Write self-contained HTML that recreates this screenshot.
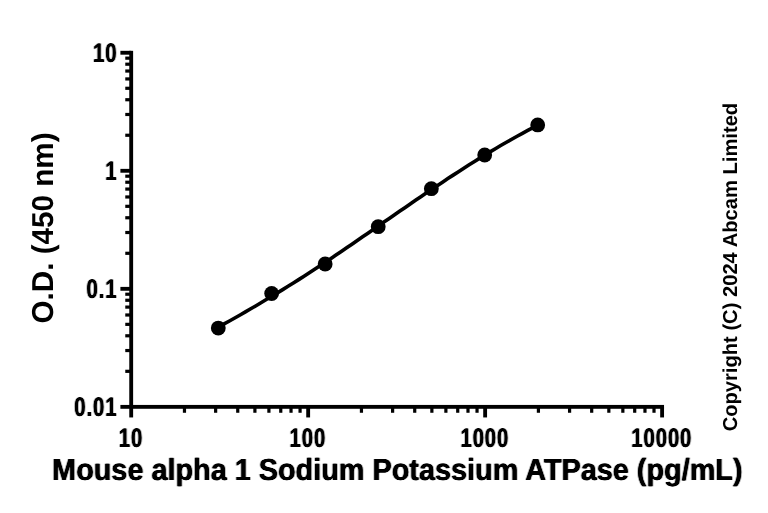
<!DOCTYPE html>
<html><head><meta charset="utf-8"><title>Standard curve</title>
<style>html,body{margin:0;padding:0;background:#fff}svg{display:block}text{text-rendering:geometricPrecision;font-family:"Liberation Sans",Arial,sans-serif;font-weight:bold;fill:#000}</style></head><body>
<svg width="768" height="513" viewBox="0 0 768 513">
<defs><filter id="hb" x="-5%" y="-25%" width="110%" height="150%" color-interpolation-filters="sRGB"><feConvolveMatrix order="3 1" kernelMatrix="0.3 1 0.3" divisor="1" edgeMode="none" preserveAlpha="false"/></filter></defs>
<rect width="768" height="513" fill="#fff"/>
<g fill="#000">
<rect x="129.27" y="50.83" width="3.85" height="366.62"/>
<rect x="120.40" y="404.93" width="543.63" height="3.85"/>
<rect x="120.40" y="286.90" width="10.80" height="3.85"/>
<rect x="120.40" y="168.87" width="10.80" height="3.85"/>
<rect x="120.40" y="50.83" width="10.80" height="3.85"/>
<rect x="125.27" y="369.72" width="5.00" height="3.20"/>
<rect x="125.27" y="348.94" width="5.00" height="3.20"/>
<rect x="125.27" y="334.19" width="5.00" height="3.20"/>
<rect x="125.27" y="322.75" width="5.00" height="3.20"/>
<rect x="125.27" y="313.40" width="5.00" height="3.20"/>
<rect x="125.27" y="305.50" width="5.00" height="3.20"/>
<rect x="125.27" y="298.66" width="5.00" height="3.20"/>
<rect x="125.27" y="292.62" width="5.00" height="3.20"/>
<rect x="125.27" y="251.69" width="5.00" height="3.20"/>
<rect x="125.27" y="230.91" width="5.00" height="3.20"/>
<rect x="125.27" y="216.16" width="5.00" height="3.20"/>
<rect x="125.27" y="204.72" width="5.00" height="3.20"/>
<rect x="125.27" y="195.37" width="5.00" height="3.20"/>
<rect x="125.27" y="187.47" width="5.00" height="3.20"/>
<rect x="125.27" y="180.63" width="5.00" height="3.20"/>
<rect x="125.27" y="174.59" width="5.00" height="3.20"/>
<rect x="125.27" y="133.66" width="5.00" height="3.20"/>
<rect x="125.27" y="112.88" width="5.00" height="3.20"/>
<rect x="125.27" y="98.13" width="5.00" height="3.20"/>
<rect x="125.27" y="86.69" width="5.00" height="3.20"/>
<rect x="125.27" y="77.34" width="5.00" height="3.20"/>
<rect x="125.27" y="69.44" width="5.00" height="3.20"/>
<rect x="125.27" y="62.60" width="5.00" height="3.20"/>
<rect x="125.27" y="56.56" width="5.00" height="3.20"/>
<rect x="306.24" y="406.85" width="3.85" height="10.60"/>
<rect x="483.21" y="406.85" width="3.85" height="10.60"/>
<rect x="660.18" y="406.85" width="3.85" height="10.60"/>
<rect x="182.87" y="406.85" width="3.20" height="5.92"/>
<rect x="214.04" y="406.85" width="3.20" height="5.92"/>
<rect x="236.15" y="406.85" width="3.20" height="5.92"/>
<rect x="253.30" y="406.85" width="3.20" height="5.92"/>
<rect x="267.31" y="406.85" width="3.20" height="5.92"/>
<rect x="279.16" y="406.85" width="3.20" height="5.92"/>
<rect x="289.42" y="406.85" width="3.20" height="5.92"/>
<rect x="298.47" y="406.85" width="3.20" height="5.92"/>
<rect x="359.84" y="406.85" width="3.20" height="5.92"/>
<rect x="391.01" y="406.85" width="3.20" height="5.92"/>
<rect x="413.12" y="406.85" width="3.20" height="5.92"/>
<rect x="430.27" y="406.85" width="3.20" height="5.92"/>
<rect x="444.28" y="406.85" width="3.20" height="5.92"/>
<rect x="456.13" y="406.85" width="3.20" height="5.92"/>
<rect x="466.39" y="406.85" width="3.20" height="5.92"/>
<rect x="475.44" y="406.85" width="3.20" height="5.92"/>
<rect x="536.81" y="406.85" width="3.20" height="5.92"/>
<rect x="567.98" y="406.85" width="3.20" height="5.92"/>
<rect x="590.09" y="406.85" width="3.20" height="5.92"/>
<rect x="607.24" y="406.85" width="3.20" height="5.92"/>
<rect x="621.25" y="406.85" width="3.20" height="5.92"/>
<rect x="633.10" y="406.85" width="3.20" height="5.92"/>
<rect x="643.36" y="406.85" width="3.20" height="5.92"/>
<rect x="652.41" y="406.85" width="3.20" height="5.92"/>
</g>
<path d="M218.77 326.74 L224.10 323.89 L229.43 320.97 L234.76 317.99 L240.08 314.97 L245.41 311.91 L250.74 308.81 L256.06 305.68 L261.39 302.52 L266.72 299.33 L272.05 296.12 L277.37 292.88 L282.70 289.61 L288.03 286.31 L293.36 282.98 L298.68 279.61 L304.01 276.20 L309.34 272.76 L314.67 269.29 L319.99 265.78 L325.32 262.24 L330.65 258.67 L335.97 255.07 L341.30 251.45 L346.63 247.82 L351.96 244.17 L357.28 240.50 L362.61 236.83 L367.94 233.15 L373.27 229.47 L378.59 225.78 L383.92 222.10 L389.25 218.41 L394.58 214.73 L399.90 211.06 L405.23 207.40 L410.56 203.74 L415.88 200.10 L421.21 196.47 L426.54 192.86 L431.87 189.27 L437.19 185.70 L442.52 182.15 L447.85 178.62 L453.18 175.13 L458.50 171.66 L463.83 168.23 L469.16 164.83 L474.49 161.47 L479.81 158.14 L485.14 154.86 L490.47 151.63 L495.79 148.44 L501.12 145.30 L506.45 142.22 L511.78 139.19 L517.10 136.22 L522.43 133.31 L527.76 130.46 L533.09 127.68 L538.41 124.96" fill="none" stroke="#000" stroke-width="3.60" stroke-linecap="round" stroke-linejoin="round"/>
<circle cx="218.30" cy="328.05" r="7.40" fill="#000"/>
<circle cx="271.65" cy="293.50" r="7.40" fill="#000"/>
<circle cx="325.15" cy="264.00" r="7.40" fill="#000"/>
<circle cx="378.20" cy="226.65" r="7.40" fill="#000"/>
<circle cx="431.35" cy="188.65" r="7.40" fill="#000"/>
<circle cx="484.70" cy="155.00" r="7.40" fill="#000"/>
<circle cx="537.70" cy="124.95" r="7.40" fill="#000"/>
<text transform="translate(117.40 62.16) scale(0.780 1.04)" font-size="26.0" letter-spacing="1.17" text-anchor="end" filter="url(#hb)">10</text>
<text transform="translate(117.40 180.19) scale(0.780 1.04)" font-size="26.0" letter-spacing="1.17" text-anchor="end" filter="url(#hb)">1</text>
<text transform="translate(117.40 298.22) scale(0.780 1.04)" font-size="26.0" letter-spacing="1.17" text-anchor="end" filter="url(#hb)">0.1</text>
<text transform="translate(117.40 416.25) scale(0.780 1.04)" font-size="26.0" letter-spacing="1.17" text-anchor="end" filter="url(#hb)">0.01</text>
<text transform="translate(130.90 446.60) scale(0.780 1.04)" font-size="26.0" letter-spacing="1.17" text-anchor="middle" filter="url(#hb)">10</text>
<text transform="translate(307.87 446.60) scale(0.780 1.04)" font-size="26.0" letter-spacing="1.17" text-anchor="middle" filter="url(#hb)">100</text>
<text transform="translate(484.84 446.60) scale(0.780 1.04)" font-size="26.0" letter-spacing="1.17" text-anchor="middle" filter="url(#hb)">1000</text>
<text transform="translate(661.81 446.60) scale(0.780 1.04)" font-size="26.0" letter-spacing="1.17" text-anchor="middle" filter="url(#hb)">10000</text>
<text transform="translate(397.3 480.3) scale(1 1.06)" font-size="28.84" text-anchor="middle" filter="url(#hb)">Mouse alpha 1 Sodium Potassium ATPase (pg/mL)</text>
<text transform="translate(52.7 228) rotate(-90) scale(1 1.02)" font-size="29.65" text-anchor="middle">O.D. (450 nm)</text>
<text transform="translate(737.2 267.1) rotate(-90)" font-size="20.17" text-anchor="middle">Copyright (C) 2024 Abcam Limited</text>
</svg></body></html>
